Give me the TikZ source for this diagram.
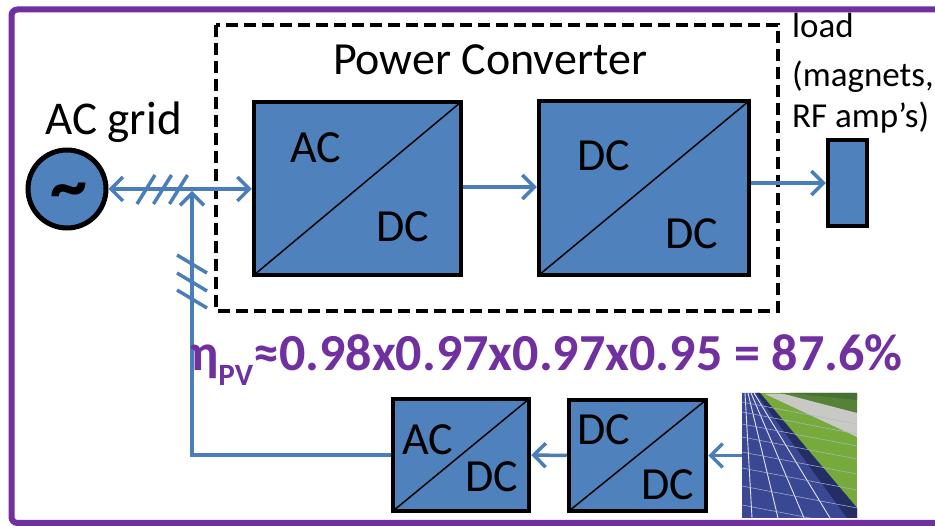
\documentclass[tikz,border=0pt]{standalone}
\usepackage{fontspec}
\setmainfont{Carlito}
\usetikzlibrary{arrows.meta}
\definecolor{boxblue}{RGB}{79,129,189}
\definecolor{linkblue}{RGB}{74,126,187}
\definecolor{framepurple}{RGB}{112,48,160}
\definecolor{panelblue}{RGB}{58,72,148}
\definecolor{paneldark}{RGB}{36,46,100}
\definecolor{grass}{RGB}{118,170,58}
\definecolor{trees}{RGB}{72,112,52}
\definecolor{road}{RGB}{200,201,196}
\begin{document}
\begin{tikzpicture}[x=1pt,y=-1pt,
  conv/.style={draw=black, line width=4.5pt, fill=boxblue, inner sep=0pt},
  lbl/.style={inner sep=0pt, font=\fontsize{46}{50}\selectfont},
  loadlbl/.style={inner sep=0pt, anchor=base west, font=\fontsize{35}{40}\selectfont},
  link/.style={draw=linkblue, line width=3.5pt},
  tip/.style={-{Straight Barb[length=12pt,width=24pt]}},
  hatch/.style={draw=linkblue, line width=3.5pt},
  diag/.style={draw=black, line width=1.5pt}]
\useasboundingbox (0,0) rectangle (935,526);
\clip (0,0) rectangle (935,526);

% frame
\draw[framepurple, line width=6pt, rounded corners=6pt] (11.5,9.5) rectangle (990,523);

% power converter dashed box
\draw[black, line width=4pt, dash pattern=on 12pt off 6pt] (216,25) rectangle (778,311);
\node[lbl, anchor=center] (pctitle) at (490,60) {Power Converter};

% AC grid
\node[lbl, anchor=base west, font=\fontsize{47}{50}\selectfont] (gridlbl) at (45,135) {AC grid};
\node[circle, draw=black, line width=5pt, fill=boxblue, minimum size=78pt, inner sep=0pt] (grid) at (67,189) {};
\node[inner sep=0pt, anchor=base, font=\fontsize{74}{74}\selectfont\bfseries] (tilde) at (69,211) {\char"007E};

% top converters
\node[conv, minimum width=207pt, minimum height=173pt] (box1) at (357.5,188.5) {};
\draw[diag] (box1.south west) ++(2.25,-2.25) -- ([shift={(-2.25,2.25)}]box1.north east);
\node[lbl] (b1ac) at (316,148) {AC};
\node[lbl] (b1dc) at (403,227) {DC};

\node[conv, minimum width=210pt, minimum height=174pt] (box2) at (644,188) {};
\draw[diag] (box2.south west) ++(2.25,-2.25) -- ([shift={(-2.25,2.25)}]box2.north east);
\node[lbl] (b2dca) at (604,156) {DC};
\node[lbl] (b2dcb) at (692,234) {DC};

% load
\node[conv, minimum width=39pt, minimum height=86pt] (load) at (847.5,183) {};
\node[loadlbl] (loadl1) at (792,38) {load};
\node[loadlbl] (loadl2) at (792,87) {(magnets,};
\node[loadlbl] (loadl3) at (792,128) {RF amp’s)};

% bottom converters
\node[conv, minimum width=136pt, minimum height=112pt] (bac) at (461,455) {};
\draw[diag] (bac.south west) ++(2.25,-2.25) -- ([shift={(-2.25,2.25)}]bac.north east);
\node[lbl] (bacac) at (428,440) {AC};
\node[lbl] (bacdc) at (492,477) {DC};

\node[conv, minimum width=137pt, minimum height=111pt] (bdc) at (637.5,455.5) {};
\draw[diag] (bdc.south west) ++(2.25,-2.25) -- ([shift={(-2.25,2.25)}]bdc.north east);
\node[lbl] (bdcdca) at (604,430) {DC};
\node[lbl] (bdcdcb) at (668,485) {DC};

% solar field picture
\node[inner sep=0pt, minimum width=115pt, minimum height=125pt] (solar) at (799.5,455.5) {};
\begin{scope}
\clip (742,393) rectangle (857,518);
\fill[grass] (742,393) rectangle (857,518);
\fill[trees!70!grass] (780,393) -- (857,393) -- (857,413) -- (785,395) -- cycle;
\fill[trees] (790,393) -- (857,393) -- (857,400) -- cycle;
\fill[road] (765,394) -- (784,394) -- (857,413) -- (857,437) -- cycle;
\fill[panelblue] (742,393) -- (760,393) -- (857,508) -- (857,518) -- (742,518) -- cycle;
\fill[paneldark] (756,393) -- (760,393) -- (857,508) -- (857,518) -- (847,518) -- cycle;
\foreach \xa/\xb in {745/752, 748/778, 751/804, 754/830}
  \draw[white!85!panelblue, line width=0.9pt] (\xa,393) -- (\xb,518);
\foreach \ya in {402, 412, 424, 437, 452, 468, 486, 505}
  \draw[white!60!panelblue, line width=0.5pt] (742,\ya) -- ++(115,22);
\end{scope}

% connectors
\draw[link, {Straight Barb[length=12pt,width=24pt]}-{Straight Barb[length=12pt,width=24pt]}] (grid.east) -- (grid.east -| box1.west);
\coordinate (jn) at (192,191);
\draw[link, tip] (bac.west) -| (jn);
\draw[link, tip] (box1.east |- 187,187) -- (box2.west |- 187,187);
\draw[link, tip] (box2.east |- load.west) -- (load.west);
\draw[link, tip] (solar.west) -- (bdc.east);
\draw[link, tip] (bdc.west) -- (bac.east);

% hatches
\foreach \hx in {146,162.5,178.5}
  \draw[hatch] (\hx-9,204) -- (\hx+9,175);
\foreach \hy in {264,282,299}
  \draw[hatch] (177,\hy-9) -- (207,\hy+9);

% efficiency
\node[inner sep=0pt, anchor=base west, text=framepurple, font=\fontsize{52}{56}\selectfont\bfseries] (eff) at (190,371)
  {η\raisebox{-0.28em}{\fontsize{31}{31}\selectfont PV}≈0.98x0.97x0.97x0.95 = 87.6\%};
\end{tikzpicture}
\end{document}
